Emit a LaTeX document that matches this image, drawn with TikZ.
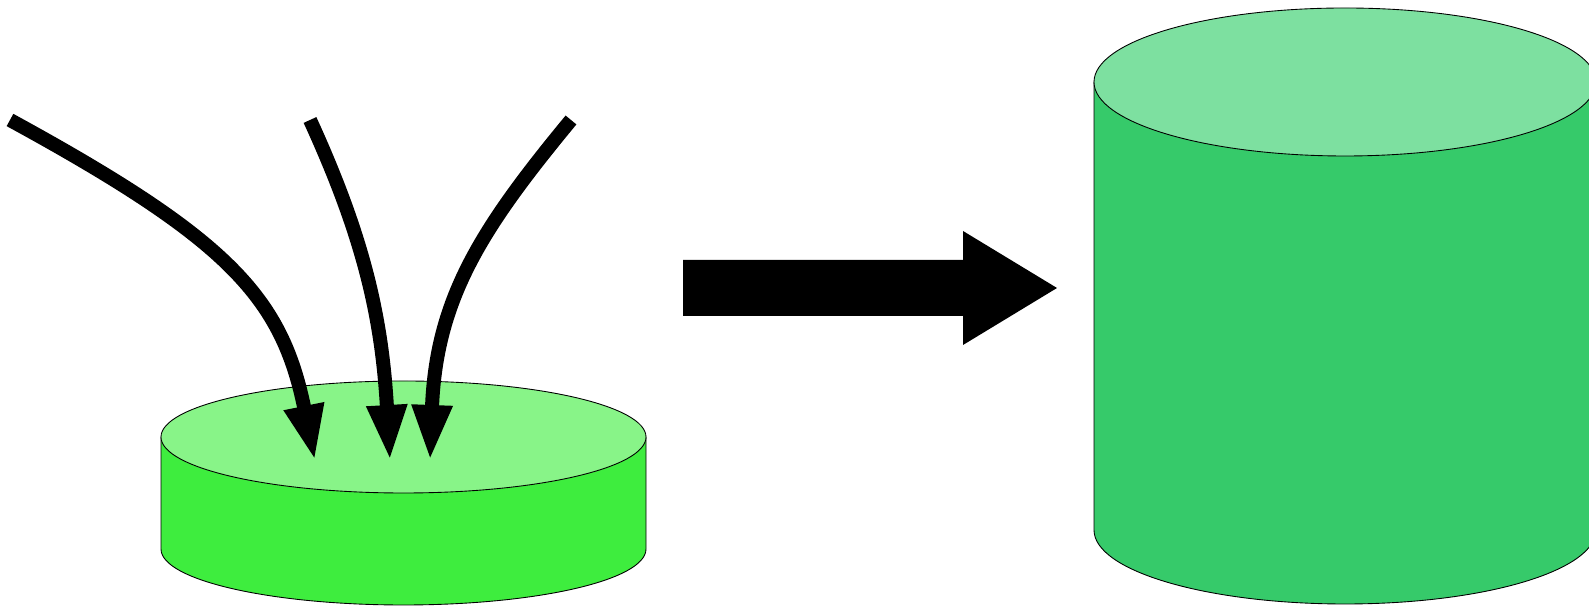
\documentclass[tikz,border=0pt]{standalone}
\usepackage{tikz}
\usepackage{xcolor}
\usetikzlibrary{arrows.meta,positioning}

\definecolor{lowtop}{RGB}{136,244,136}
\definecolor{lowbody}{RGB}{62,237,62}
\definecolor{hightop}{RGB}{125,224,160}
\definecolor{highbody}{RGB}{54,202,106}

\begin{document}
\begin{tikzpicture}[x=0.02cm,y=0.02cm,
    flow/.style={line width=0.28cm,-{Triangle[width=0.74cm,length=1.12cm]}},
    edge/.style={draw=black,line width=0.5pt}]
\useasboundingbox (0,0) rectangle (1589,614);
\clip (0,0) rectangle (1589,614);

% Small cylinder
\filldraw[edge,fill=lowbody] (161,177) -- (161,65)
    arc[start angle=180,end angle=360,x radius=242.5,y radius=56] -- (646,177) -- cycle;
\filldraw[edge,fill=lowtop] (403.5,177) ellipse[x radius=242.5,y radius=56];

% Incoming flows
\coordinate (s1) at (10,494);
\coordinate (s2) at (310,494);
\coordinate (s3) at (571,494);
\coordinate (e1) at (315,153);
\coordinate (e2) at (390,153);
\coordinate (e3) at (430,153);
\draw[flow] (s1) .. controls (230,374) and (282,316) .. (e1);
\draw[flow] (s2) .. controls (365,374) and (382,294) .. (e2);
\draw[flow] (s3) .. controls (480,384) and (436,314) .. (e3);

% Big arrow
\fill[black] (683,354) -- (963,354) -- (963,383) -- (1057,326)
    -- (963,269) -- (963,298) -- (683,298) -- cycle;

% Tall cylinder
\filldraw[edge,fill=highbody] (1094,532) -- (1094,84)
    arc[start angle=180,end angle=360,x radius=251,y radius=74] -- (1596,532) -- cycle;
\filldraw[edge,fill=hightop] (1345,532) ellipse[x radius=251,y radius=74];
\end{tikzpicture}
\end{document}
